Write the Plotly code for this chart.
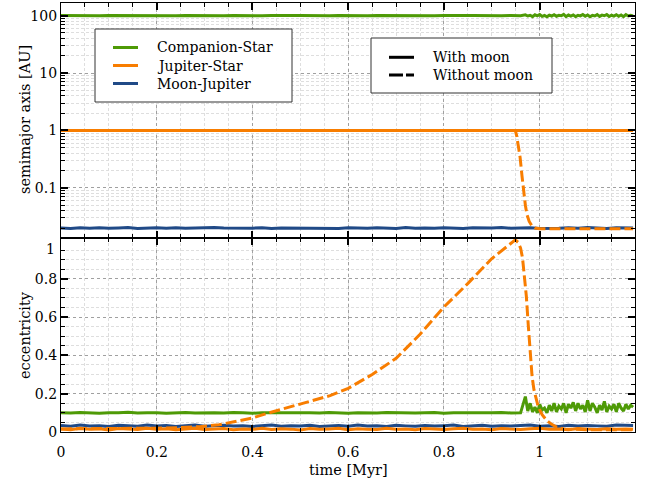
import plotly.graph_objects as go

# ---------------- data ----------------
t_main = [0.00, 0.02, 0.04, 0.06, 0.08, 0.10, 0.12, 0.14, 0.16, 0.18,
          0.20, 0.22, 0.24, 0.26, 0.28, 0.30, 0.32, 0.34, 0.36, 0.38,
          0.40, 0.42, 0.44, 0.46, 0.48, 0.50, 0.52, 0.54, 0.56, 0.58,
          0.60, 0.62, 0.64, 0.66, 0.68, 0.70, 0.72, 0.74, 0.76, 0.78,
          0.80, 0.82, 0.84, 0.86, 0.88, 0.90, 0.92, 0.94, 0.96, 0.98,
          1.00, 1.02, 1.04, 1.06, 1.08, 1.10, 1.12, 1.14, 1.16, 1.18,
          1.195]
t_early = t_main[:49]  # 0.00 .. 0.96
t_late = [0.970, 0.975, 0.980, 0.985, 0.990, 0.995, 1.000, 1.005, 1.010, 1.015,
          1.020, 1.025, 1.030, 1.035, 1.040, 1.045, 1.050, 1.055, 1.060, 1.065,
          1.070, 1.075, 1.080, 1.085, 1.090, 1.095, 1.100, 1.105, 1.110, 1.115,
          1.120, 1.125, 1.130, 1.135, 1.140, 1.145, 1.150, 1.155, 1.160, 1.165,
          1.170, 1.175, 1.180, 1.185, 1.190, 1.195]

# semimajor axis [AU]
a_comp_early = [100.5, 99.6, 100.8, 99.9, 99.4, 100.6, 100.1, 99.5, 100.9, 100.0,
                99.7, 100.4, 99.3, 100.7, 100.0, 99.6, 100.5, 99.8, 100.9, 99.5,
                100.2, 99.7, 100.6, 99.4, 100.3, 100.8, 99.6, 100.1, 99.5, 100.7,
                99.9, 100.4, 99.3, 100.6, 100.0, 99.7, 100.9, 99.5, 100.3, 99.8,
                100.6, 99.4, 100.2, 100.7, 99.6, 100.1, 99.5, 100.5, 100.0]
a_comp_late = [103.0, 98.5, 101.5, 96.0, 103.5, 99.0, 104.5, 97.0, 100.5, 95.5,
               102.0, 98.5, 104.0, 97.5, 101.0, 99.5, 105.0, 96.5, 102.5, 98.0,
               103.0, 96.0, 101.5, 99.0, 104.5, 97.5, 102.5, 95.5, 101.0, 98.5,
               104.0, 97.0, 102.0, 99.5, 104.5, 96.5, 101.5, 98.0, 103.5, 97.5,
               102.5, 96.0, 104.0, 98.5, 101.0, 99.0]
a_jup_with_t = [0.00, 1.195]
a_jup_with = [1.0, 1.0]
a_moon = [0.0200, 0.0197, 0.0203, 0.0199, 0.0202, 0.0198, 0.0201, 0.0204, 0.0197, 0.0200,
          0.0202, 0.0198, 0.0203, 0.0199, 0.0201, 0.0197, 0.0204, 0.0200, 0.0198, 0.0202,
          0.0199, 0.0203, 0.0197, 0.0201, 0.0200, 0.0204, 0.0198, 0.0202, 0.0199, 0.0197,
          0.0203, 0.0200, 0.0198, 0.0202, 0.0201, 0.0197, 0.0204, 0.0199, 0.0201, 0.0198,
          0.0203, 0.0200, 0.0197, 0.0202, 0.0199, 0.0201, 0.0204, 0.0198, 0.0200, 0.0203,
          0.0197, 0.0201, 0.0199, 0.0202, 0.0198, 0.0204, 0.0200, 0.0197, 0.0202, 0.0199,
          0.0201]
a_jup_wo_t = [0.000, 0.949, 0.952, 0.956, 0.959, 0.963, 0.966, 0.970, 0.973, 0.978,
              0.984, 0.990, 1.000, 1.100, 1.195]
a_jup_wo = [1.0, 1.0, 0.80, 0.50, 0.34, 0.16, 0.088, 0.050, 0.035, 0.026,
            0.0216, 0.0200, 0.0195, 0.0195, 0.0195]

# eccentricity
e_comp_early = [0.101, 0.099, 0.102, 0.100, 0.098, 0.101, 0.100, 0.103, 0.099, 0.100,
                0.101, 0.098, 0.100, 0.102, 0.099, 0.101, 0.100, 0.099, 0.102, 0.100,
                0.098, 0.101, 0.100, 0.102, 0.099, 0.100, 0.101, 0.099, 0.102, 0.100,
                0.098, 0.101, 0.100, 0.099, 0.102, 0.100, 0.101, 0.099, 0.100, 0.102,
                0.098, 0.101, 0.100, 0.099, 0.101, 0.100, 0.102, 0.099, 0.100]
e_comp_late = [0.185, 0.110, 0.150, 0.105, 0.130, 0.100, 0.145, 0.115, 0.125, 0.100,
               0.140, 0.110, 0.150, 0.105, 0.135, 0.120, 0.150, 0.100, 0.145, 0.125,
               0.155, 0.110, 0.150, 0.120, 0.140, 0.105, 0.165, 0.110, 0.150, 0.130,
               0.100, 0.140, 0.115, 0.160, 0.105, 0.135, 0.120, 0.145, 0.105, 0.150,
               0.125, 0.110, 0.145, 0.120, 0.140, 0.130]
e_moon = [0.034, 0.030, 0.036, 0.031, 0.033, 0.029, 0.035, 0.032, 0.030, 0.036,
          0.031, 0.034, 0.029, 0.033, 0.036, 0.030, 0.032, 0.035, 0.031, 0.033,
          0.029, 0.034, 0.036, 0.030, 0.033, 0.031, 0.035, 0.029, 0.032, 0.034,
          0.030, 0.036, 0.031, 0.033, 0.029, 0.035, 0.032, 0.030, 0.034, 0.031,
          0.033, 0.036, 0.029, 0.032, 0.035, 0.030, 0.033, 0.031, 0.034, 0.036,
          0.030, 0.033, 0.029, 0.035, 0.031, 0.034, 0.032, 0.030, 0.036, 0.033,
          0.034]
e_jup_with = [0.016, 0.012, 0.019, 0.014, 0.017, 0.011, 0.018, 0.015, 0.013, 0.019,
              0.014, 0.017, 0.012, 0.016, 0.019, 0.013, 0.015, 0.018, 0.012, 0.016,
              0.014, 0.019, 0.013, 0.017, 0.015, 0.011, 0.018, 0.014, 0.016, 0.019,
              0.012, 0.017, 0.015, 0.013, 0.019, 0.014, 0.016, 0.012, 0.018, 0.015,
              0.013, 0.017, 0.019, 0.014, 0.016, 0.012, 0.018, 0.015, 0.013, 0.017,
              0.019, 0.014, 0.016, 0.012, 0.018, 0.015, 0.013, 0.017, 0.014, 0.016,
              0.015]
e_jup_wo_t = [0.00, 0.10, 0.20, 0.25, 0.29, 0.33, 0.36, 0.40, 0.43, 0.47,
              0.50, 0.53, 0.562, 0.60, 0.65, 0.70, 0.75, 0.80, 0.85, 0.90,
              0.93, 0.945, 0.949, 0.955, 0.960, 0.964, 0.968, 0.972, 0.976, 0.980,
              0.984, 0.988, 0.993, 0.997, 1.005, 1.015, 1.025, 1.035, 1.050, 1.100,
              1.195]
e_jup_wo = [0.016, 0.017, 0.020, 0.023, 0.028, 0.038, 0.052, 0.073, 0.097, 0.125,
            0.150, 0.170, 0.190, 0.228, 0.300, 0.385, 0.510, 0.653, 0.776, 0.906,
            0.965, 0.995, 1.003, 0.990, 0.960, 0.910, 0.820, 0.710, 0.560, 0.400,
            0.290, 0.220, 0.160, 0.130, 0.090, 0.060, 0.040, 0.026, 0.016, 0.012,
            0.012]

names = ["Companion-Star", "Jupiter-Star", "Moon-Jupiter"]
style_names = ["With moon", "Without moon"]
col_green = "#4e9a06"
col_orange = "#f87d00"
col_blue = "#204a87"
colors = [col_green, col_orange, col_blue]

FONT = "DejaVu Serif"
W = 3
DASH = "11px,4px"

fig = go.Figure()

# ---- top panel: semimajor axis (x2, y2) ----
fig.add_trace(go.Scatter(x=t_early + t_late, y=a_comp_early + a_comp_late, mode="lines",
                         line=dict(color=col_green, width=W), xaxis="x2", yaxis="y2",
                         name=names[0]))
fig.add_trace(go.Scatter(x=t_main, y=a_moon, mode="lines",
                         line=dict(color=col_blue, width=W), xaxis="x2", yaxis="y2",
                         name=names[2]))
fig.add_trace(go.Scatter(x=a_jup_with_t, y=a_jup_with, mode="lines",
                         line=dict(color=col_orange, width=W), xaxis="x2", yaxis="y2",
                         name=names[1]))
fig.add_trace(go.Scatter(x=a_jup_wo_t, y=a_jup_wo, mode="lines",
                         line=dict(color=col_orange, width=W, dash=DASH), xaxis="x2", yaxis="y2",
                         name=names[1] + " (without moon)"))

# ---- bottom panel: eccentricity (x, y) ----
fig.add_trace(go.Scatter(x=t_early + t_late, y=e_comp_early + e_comp_late, mode="lines",
                         line=dict(color=col_green, width=W), name=names[0]))
fig.add_trace(go.Scatter(x=t_main, y=e_moon, mode="lines",
                         line=dict(color=col_blue, width=W), name=names[2]))
fig.add_trace(go.Scatter(x=t_main, y=e_jup_with, mode="lines",
                         line=dict(color=col_orange, width=W), name=names[1]))
fig.add_trace(go.Scatter(x=e_jup_wo_t, y=e_jup_wo, mode="lines",
                         line=dict(color=col_orange, width=W, dash=DASH),
                         name=names[1] + " (without moon)"))

# ---- legends (drawn as boxes in paper space) ----
PL, PR, PT, PB = 61, 635, 3, 432


def px(xp):
    return (xp - PL) / (PR - PL)


def py(yp):
    return (PB - yp) / (PB - PT)


shapes = []
annotations = []
# legend 1: colours
shapes.append(dict(type="rect", xref="paper", yref="paper", x0=px(95), x1=px(292),
                   y0=py(102), y1=py(29), line=dict(color="#333333", width=1),
                   fillcolor="white", layer="above"))
for i, (nm, c) in enumerate(zip(names, colors)):
    yy = [47.5, 65.5, 83.5][i]
    shapes.append(dict(type="line", xref="paper", yref="paper", x0=px(113), x1=px(138),
                       y0=py(yy), y1=py(yy), line=dict(color=c, width=W), layer="above"))
    annotations.append(dict(text=nm, xref="paper", yref="paper", x=px(155), y=py(yy),
                            xanchor="left", yanchor="middle", showarrow=False,
                            font=dict(family=FONT, size=14, color="black")))
# legend 2: line styles
shapes.append(dict(type="rect", xref="paper", yref="paper", x0=px(371), x1=px(552),
                   y0=py(93), y1=py(38), line=dict(color="#333333", width=1),
                   fillcolor="white", layer="above"))
for i, nm in enumerate(style_names):
    yy = [57.3, 75.0][i]
    shapes.append(dict(type="line", xref="paper", yref="paper", x0=px(389), x1=px(414),
                       y0=py(yy), y1=py(yy),
                       line=dict(color="black", width=W, dash=None if i == 0 else "14px,3px"),
                       layer="above"))
    annotations.append(dict(text=nm, xref="paper", yref="paper", x=px(431), y=py(yy),
                            xanchor="left", yanchor="middle", showarrow=False,
                            font=dict(family=FONT, size=14, color="black")))

# top tick label of the lower panel, aligned to its top
annotations.append(dict(text="1", x=0, xref="paper", xanchor="right", xshift=-4,
                        y=1.0, yref="y", yanchor="top", yshift=1, showarrow=False,
                        font=dict(family=FONT, size=14, color="black")))

# axis titles
annotations.append(dict(text="semimajor axis [AU]", textangle=-90, xref="paper", yref="paper",
                        x=px(25), y=py(120), xanchor="center", yanchor="middle",
                        showarrow=False, font=dict(family=FONT, size=14.5, color="black")))
annotations.append(dict(text="eccentricity", textangle=-90, xref="paper", yref="paper",
                        x=px(25), y=py(335), xanchor="center", yanchor="middle",
                        showarrow=False, font=dict(family=FONT, size=14.5, color="black")))
annotations.append(dict(text="time [Myr]", xref="paper", yref="paper",
                        x=px(348), y=py(470), xanchor="center", yanchor="middle",
                        showarrow=False, font=dict(family=FONT, size=14.5, color="black")))

grid_major = dict(showgrid=True, gridcolor="#a0a0a0", griddash="dot", gridwidth=1)
minor_common = dict(ticks="inside", ticklen=4, tickwidth=1, tickcolor="black",
                    showgrid=True, gridcolor="#dedede", griddash="3px,2px", gridwidth=1)
axis_common = dict(showline=True, linecolor="black", linewidth=1.2, mirror="allticks",
                   ticks="inside", ticklen=7, tickwidth=1.5, tickcolor="black",
                   zeroline=False, tickfont=dict(family=FONT, size=14, color="black"))

split = 0.4522
xr = [0, 1.199]
xt = [0, 0.2, 0.4, 0.6, 0.8, 1.0]

fig.update_layout(
    width=646, height=485,
    margin=dict(l=PL, r=646 - PR, t=PT, b=485 - PB),
    plot_bgcolor="white", paper_bgcolor="white",
    showlegend=False,
    font=dict(family=FONT, size=14, color="black"),
    xaxis=dict(domain=[0, 1], anchor="y", range=xr, tickmode="array", tickvals=xt,
               ticktext=["0", "0.2", "0.4", "0.6", "0.8", "1"],
               ticklabelstandoff=7,
               minor=dict(dtick=0.05, **minor_common),
               **grid_major, **axis_common),
    yaxis=dict(domain=[0, split], anchor="x", range=[0, 1.013], tickmode="array",
               tickvals=[0, 0.2, 0.4, 0.6, 0.8],
               ticktext=["0", "0.2", "0.4", "0.6", "0.8"],
               minor=dict(tickmode="array",
                          tickvals=[0.05, 0.1, 0.15, 0.25, 0.3, 0.35, 0.45, 0.5, 0.55,
                                    0.65, 0.7, 0.75, 0.85, 0.9, 0.95], **minor_common),
               **grid_major, **axis_common),
    xaxis2=dict(domain=[0, 1], anchor="y2", matches="x", range=xr, tickmode="array",
                tickvals=xt, showticklabels=False,
                minor=dict(dtick=0.05, **minor_common),
                **grid_major, **axis_common),
    yaxis2=dict(domain=[split, 1], anchor="x2", type="log", range=[-1.873, 2.220],
                tickmode="array", tickvals=[0.1, 1, 10, 100],
                ticktext=["0.1", "1", "10", "100"],
                minor=dict(tickmode="array",
                           tickvals=[m * d for d in [0.01, 0.1, 1, 10, 100]
                                     for m in [2, 3, 4, 5, 6, 7, 8, 9]], **minor_common),
                **grid_major, **axis_common),
    shapes=shapes,
    annotations=annotations,
)

fig.write_html("out.html")
